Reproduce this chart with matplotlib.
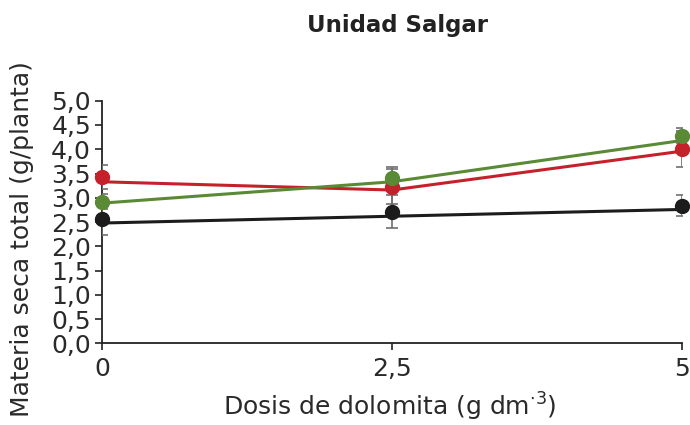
import matplotlib
matplotlib.use("Agg")
import matplotlib.pyplot as plt

# Data
dosis = [0, 2.5, 5]
x_tick_labels = ["0", "2,5", "5"]
y_ticks = [0, 0.5, 1.0, 1.5, 2.0, 2.5, 3.0, 3.5, 4.0, 4.5, 5.0]
y_tick_labels = ["0,0", "0,5", "1,0", "1,5", "2,0", "2,5", "3,0", "3,5", "4,0", "4,5", "5,0"]

red_mean = [3.43, 3.23, 4.01]
red_err = [0.25, 0.36, 0.37]
red_fit = [3.33, 3.16, 3.96]

green_mean = [2.92, 3.40, 4.28]
green_err = [0.15, 0.24, 0.15]
green_fit = [2.89, 3.33, 4.18]

black_mean = [2.56, 2.71, 2.84]
black_err = [0.33, 0.34, 0.22]
black_fit = [2.48, 2.62, 2.76]

colors = {"red": "#c4212b", "green": "#5a8a35", "black": "#1c1c1c"}

plt.rcParams['font.family'] = ['DejaVu Sans']

fig = plt.figure(figsize=(6.9, 4.25), dpi=100)
ax = fig.add_axes([0.148, 0.192, 0.840, 0.571])

series = [
    (black_mean, black_err, black_fit, colors["black"]),
    (red_mean, red_err, red_fit, colors["red"]),
    (green_mean, green_err, green_fit, colors["green"]),
]
for mean, err, fit, c in series:
    ax.plot(dosis, fit, color=c, lw=2.2, zorder=2, solid_capstyle='butt')
    ax.errorbar(dosis, mean, yerr=err, fmt='none', ecolor='#707070',
                elinewidth=1.2, capsize=4, capthick=1.2, zorder=3)
    ax.plot(dosis, mean, 'o', color=c, markersize=10, markeredgecolor=c,
            zorder=4, clip_on=False)

tc = '#2a2a2a'
ax.set_xlim(0, 5)
ax.set_ylim(0, 5)
ax.set_xticks(dosis)
ax.set_xticklabels(x_tick_labels, fontsize=18, color=tc)
ax.set_yticks(y_ticks)
ax.set_yticklabels(y_tick_labels, fontsize=18, color=tc)
ax.tick_params(axis='both', direction='out', length=5, width=1.2, color='#222222')
ax.tick_params(axis='y', pad=3)
ax.tick_params(axis='x', pad=5)
for s in ['top', 'right']:
    ax.spines[s].set_visible(False)
for s in ['left', 'bottom']:
    ax.spines[s].set_linewidth(1.3)
    ax.spines[s].set_color('#222222')

ax.set_xlabel(r'Dosis de dolomita (g dm$^{\cdot 3}$)', fontsize=18, color=tc)
ax.xaxis.set_label_coords(0.497, -0.262)
ax.xaxis.label.set_va('center')
ax.set_ylabel('Materia seca total (g/planta)', fontsize=18, color=tc)
ax.yaxis.set_label_coords(-0.138, 0.43)
ax.yaxis.label.set_va('center')
fig.text(0.576, 0.94, 'Unidad Salgar', fontsize=16.5, fontweight='bold',
         ha='center', va='center', color='#222222')

fig.savefig('out.png', dpi=100)
